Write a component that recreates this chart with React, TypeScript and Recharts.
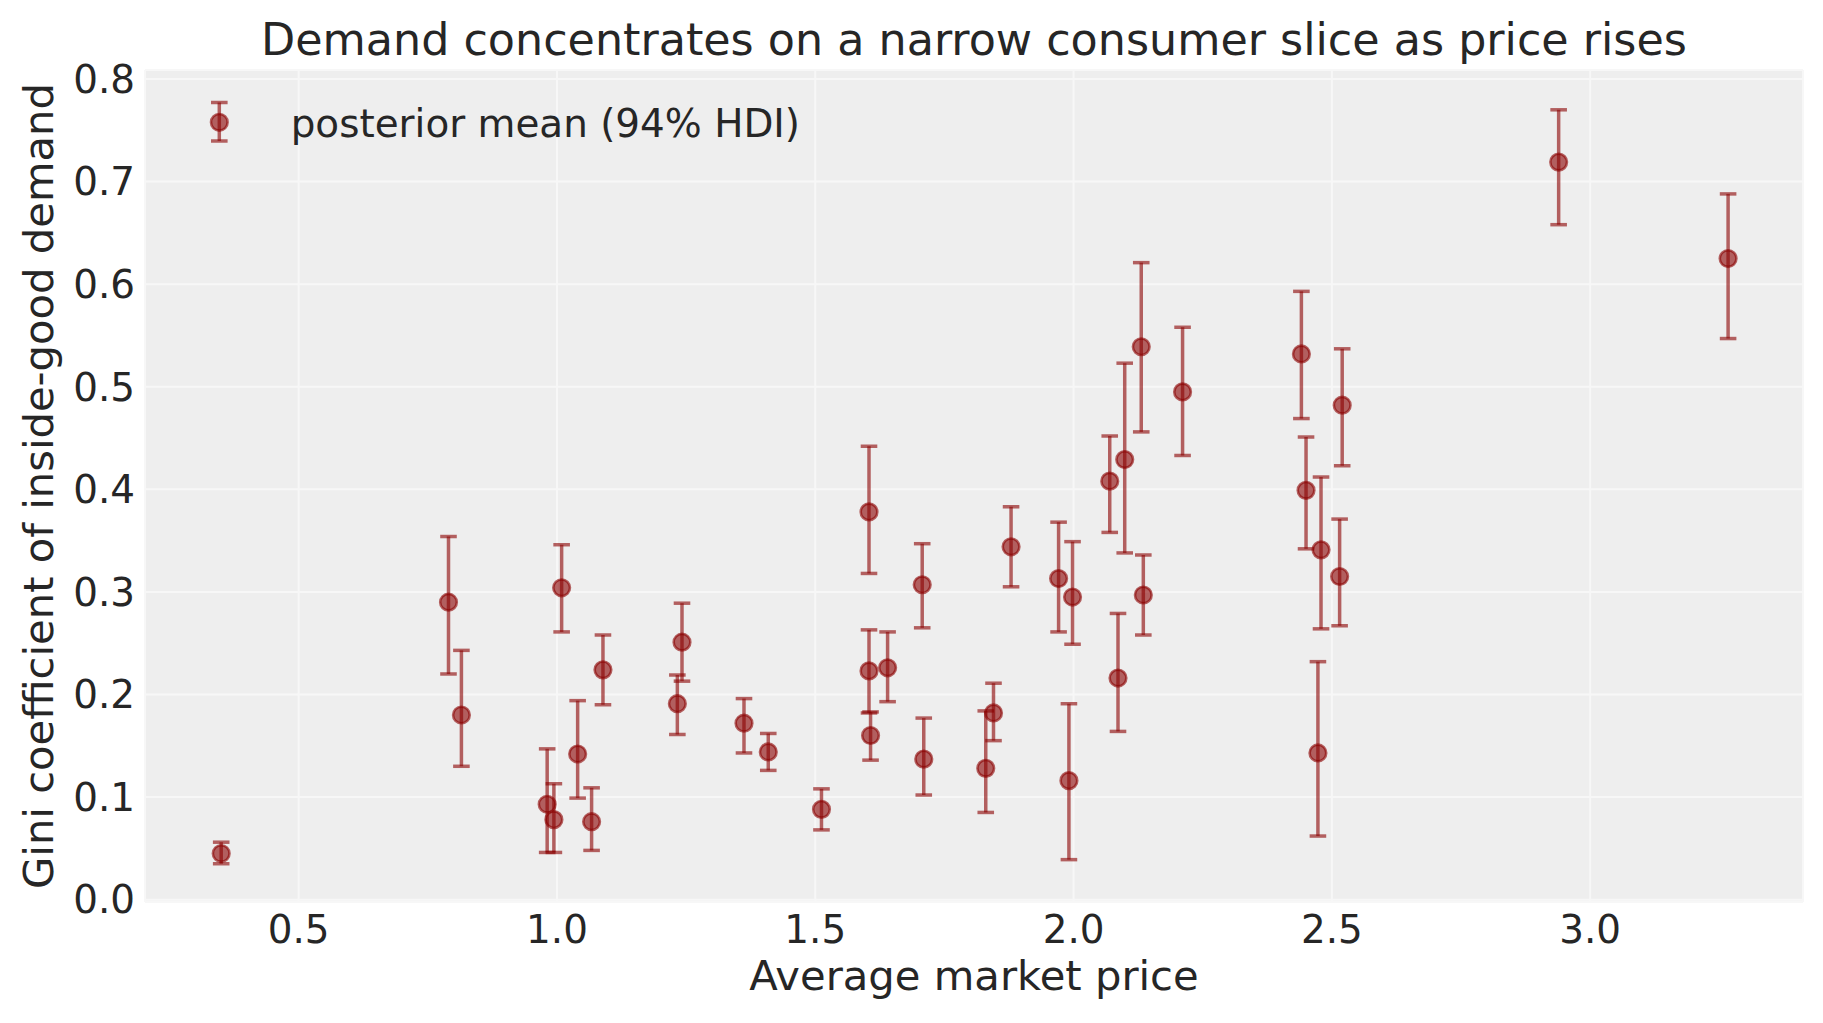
import React from 'react';
import { ScatterChart, Scatter, XAxis, YAxis, CartesianGrid, ErrorBar, Label } from 'recharts';

const prices = [
  0.35, 0.79, 0.815, 0.981, 0.994, 1.009, 1.04, 1.067, 1.089, 1.233,
  1.242, 1.362, 1.409, 1.512, 1.604, 1.604, 1.607, 1.64, 1.707, 1.71,
  1.83, 1.845, 1.879, 1.971, 1.991, 1.998, 2.07, 2.086, 2.099, 2.131,
  2.135, 2.211, 2.441, 2.45, 2.473, 2.479, 2.515, 2.52, 2.939, 3.267,
];
const giniMean = [
  0.045, 0.29, 0.18, 0.093, 0.078, 0.304, 0.142, 0.076, 0.224, 0.191,
  0.251, 0.172, 0.144, 0.088, 0.378, 0.223, 0.16, 0.226, 0.307, 0.137,
  0.128, 0.182, 0.344, 0.313, 0.116, 0.295, 0.408, 0.216, 0.429, 0.539,
  0.297, 0.495, 0.532, 0.399, 0.143, 0.341, 0.315, 0.482, 0.719, 0.625,
];
const hdiLow = [
  0.035, 0.22, 0.13, 0.046, 0.046, 0.261, 0.099, 0.048, 0.19, 0.161,
  0.213, 0.143, 0.126, 0.068, 0.318, 0.182, 0.136, 0.193, 0.265, 0.102,
  0.085, 0.155, 0.305, 0.261, 0.039, 0.249, 0.358, 0.164, 0.338, 0.456,
  0.258, 0.433, 0.469, 0.342, 0.062, 0.264, 0.267, 0.423, 0.658, 0.547,
];
const hdiHigh = [
  0.056, 0.354, 0.243, 0.147, 0.113, 0.346, 0.194, 0.109, 0.258, 0.219,
  0.289, 0.196, 0.162, 0.108, 0.442, 0.263, 0.183, 0.261, 0.347, 0.177,
  0.184, 0.211, 0.383, 0.368, 0.191, 0.349, 0.452, 0.279, 0.523, 0.621,
  0.336, 0.558, 0.593, 0.451, 0.232, 0.412, 0.371, 0.537, 0.77, 0.688,
];
const xTicks = [0.5, 1.0, 1.5, 2.0, 2.5, 3.0];
const yTicks = [0.0, 0.1, 0.2, 0.3, 0.4, 0.5, 0.6, 0.7, 0.8];

const TITLE = 'Demand concentrates on a narrow consumer slice as price rises';
const X_LABEL = 'Average market price';
const Y_LABEL = 'Gini coefficient of inside-good demand';
const LEGEND_LABEL = 'posterior mean (94% HDI)';

const rows = prices.map((x, i) => ({
  x,
  y: giniMean[i],
  err: [giniMean[i] - hdiLow[i], hdiHigh[i] - giniMean[i]],
}));

const FONT = '"DejaVu Sans", sans-serif';
const TEXT = '#262626';
const RED = '#8b0000';
const W = 1807;
const H = 1007;

const Marker = (props: any) => {
  const { cx, cy } = props;
  if (cx == null || cy == null) return null;
  return (
    <circle cx={cx} cy={cy} r={8.3} fill={RED} fillOpacity={0.6} stroke={RED} strokeOpacity={0.6} strokeWidth={2.6} />
  );
};

const fmt = (v: number) => v.toFixed(1);

export default function App() {
  return (
    <div style={{ position: 'relative', width: W, height: H, fontFamily: FONT }}>
      <ScatterChart width={W} height={H} margin={{ top: 62, right: 12, bottom: 53, left: 0 }}>
        <CartesianGrid fill="#eeeeee" fillOpacity={1} stroke="#f7f7f7" strokeWidth={2} />
        <XAxis
          type="number"
          dataKey="x"
          domain={[0.2025, 3.412]}
          allowDataOverflow
          ticks={xTicks}
          tickFormatter={fmt}
          axisLine={false}
          tickLine={false}
          tickSize={0}
          tickMargin={13}
          height={60}
          tick={{ fontSize: 38.9, fill: TEXT, fontFamily: FONT }}
        >
          <Label
            content={(p: any) => {
              const vb = p.viewBox || {};
              return (
                <text x={vb.x + vb.width / 2} y={vb.y + 88} textAnchor="middle" fontSize={41.7} fill={TEXT} fontFamily={FONT}>
                  {X_LABEL}
                </text>
              );
            }}
          />
        </XAxis>
        <YAxis
          type="number"
          dataKey="y"
          domain={[-0.0023, 0.8088]}
          allowDataOverflow
          ticks={yTicks}
          tickFormatter={fmt}
          axisLine={false}
          tickLine={false}
          tickSize={0}
          tickMargin={10}
          width={137}
          tick={{ fontSize: 38.9, fill: TEXT, fontFamily: FONT }}
        >
          <Label
            content={(p: any) => {
              const vb = p.viewBox || {};
              const cy = vb.y + vb.height / 2;
              return (
                <text x={45} y={cy} transform={`rotate(-90, 45, ${cy})`} textAnchor="middle" fontSize={41.7} fill={TEXT} fontFamily={FONT}>
                  {Y_LABEL}
                </text>
              );
            }}
          />
        </YAxis>
        <Scatter data={rows} dataKey="y" shape={<Marker />} isAnimationActive={false}>
          <ErrorBar dataKey="err" direction="y" width={8.3} stroke={RED} strokeOpacity={0.6} strokeWidth={3.5} />
        </Scatter>
      </ScatterChart>
      <svg width={W} height={160} style={{ position: 'absolute', left: 0, top: 0, pointerEvents: 'none' }}>
        <text x={966} y={47} textAnchor="middle" fontSize={44.4} fill={TEXT} fontFamily={FONT}>
          {TITLE}
        </text>
        <g stroke={RED} strokeOpacity={0.6} strokeWidth={3.5}>
          <line x1={211.3} y1={94.5} x2={211.3} y2={133} />
          <line x1={203} y1={94.5} x2={219.6} y2={94.5} />
          <line x1={203} y1={133} x2={219.6} y2={133} />
        </g>
        <circle cx={211.3} cy={114.3} r={8.3} fill={RED} fillOpacity={0.6} stroke={RED} strokeOpacity={0.6} strokeWidth={2.6} />
        <text x={282.7} y={128.7} fontSize={38.9} fill={TEXT} fontFamily={FONT}>
          {LEGEND_LABEL}
        </text>
      </svg>
    </div>
  );
}
